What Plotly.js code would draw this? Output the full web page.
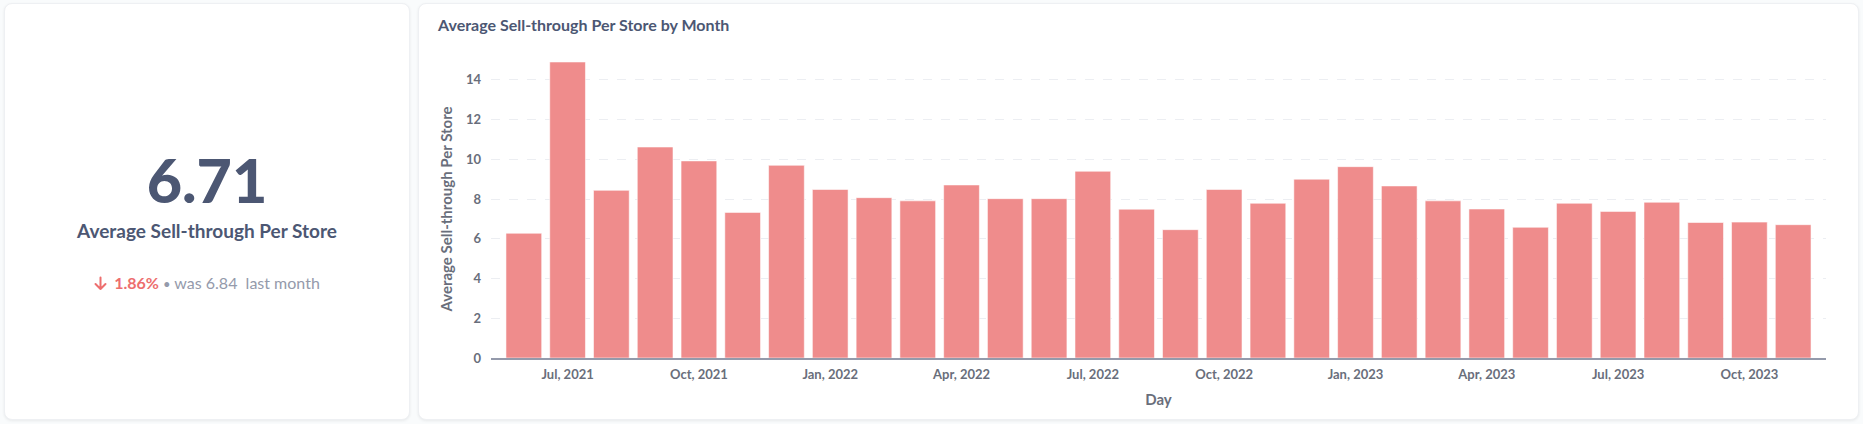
<!DOCTYPE html>
<html>
<head>
<meta charset="utf-8">
<script src="https://cdn.plot.ly/plotly-3.0.1.min.js"></script>
<style>
  html, body { margin: 0; padding: 0; width: 1863px; height: 424px; background: #F9FBFC; overflow: hidden; font-family: Lato, "Open Sans", sans-serif; }
  .card { position: absolute; background: #fff; border-radius: 8px; box-shadow: 0 1px 3px rgba(0,0,0,0.07); border: 1px solid #EEF0F3; box-sizing: border-box; }
  #kpi { left: 4px; top: 3px; width: 406px; height: 417px; }
  #chartcard { left: 418px; top: 3px; width: 1441px; height: 417px; }
  #chart { position: absolute; left: 0; top: 0; width: 1441px; height: 417px; }
  .big { position: absolute; left: 0; width: 100%; top: 141px; text-align: center; font-size: 61px; font-weight: 900; color: #4C5773; line-height: 70px; }
  .lbl { position: absolute; left: 0; width: 100%; top: 215px; text-align: center; font-size: 19px; font-weight: 700; color: #4C5773; line-height: 24px; }
  .sub { position: absolute; left: 0; width: 100%; top: 269px; text-align: center; font-size: 16px; color: #949AAB; line-height: 20px; white-space: nowrap; }
  .sub .pct { color: #ED6E6E; font-weight: 700; }
  .sub svg { vertical-align: -2px; margin-right: 7px; }
</style>
</head>
<body>
<script>
// ---- data ----
const kpiValue = "6.71";
const kpiLabel = "Average Sell-through Per Store";
const kpiChange = "1.86%";
const kpiPrevious = "6.84";

const months = ["Jun, 2021","Jul, 2021","Aug, 2021","Sep, 2021","Oct, 2021","Nov, 2021","Dec, 2021",
  "Jan, 2022","Feb, 2022","Mar, 2022","Apr, 2022","May, 2022","Jun, 2022","Jul, 2022","Aug, 2022","Sep, 2022","Oct, 2022","Nov, 2022","Dec, 2022",
  "Jan, 2023","Feb, 2023","Mar, 2023","Apr, 2023","May, 2023","Jun, 2023","Jul, 2023","Aug, 2023","Sep, 2023","Oct, 2023","Nov, 2023"];
const sellThrough = [6.28, 14.9, 8.44, 10.62, 9.92, 7.33, 9.70,
  8.48, 8.07, 7.91, 8.71, 8.02, 8.02, 9.40, 7.49, 6.46, 8.48, 7.79, 9.00,
  9.63, 8.66, 7.91, 7.50, 6.58, 7.79, 7.38, 7.84, 6.82, 6.84, 6.71];
const tickLabels = ["Jul, 2021","Oct, 2021","Jan, 2022","Apr, 2022","Jul, 2022","Oct, 2022","Jan, 2023","Apr, 2023","Jul, 2023","Oct, 2023"];
const yTicks = [0, 2, 4, 6, 8, 10, 12, 14];
</script>

<div class="card" id="kpi">
  <div class="big" id="bigv"></div>
  <div class="lbl" id="lblv"></div>
  <div class="sub" id="subv"></div>
</div>
<div class="card" id="chartcard"><div id="chart"></div></div>

<script>
document.getElementById('bigv').textContent = kpiValue;
document.getElementById('lblv').textContent = kpiLabel;
document.getElementById('subv').innerHTML =
  '<svg width="13" height="15" viewBox="0 0 13 15"><path d="M6.5 1.5 V13 M1.5 8 L6.5 13 L11.5 8" stroke="#ED6E6E" stroke-width="2" fill="none" stroke-linecap="round" stroke-linejoin="round"/></svg>' +
  '<span class="pct">' + kpiChange + '</span> <span style="font-size:13px">&#8226;</span> was ' + kpiPrevious + '&nbsp; last month';

const axisColor = '#696E7B';
const trace = {
  type: 'bar',
  x: months,
  y: sellThrough,
  marker: { color: '#EF8C8C', line: { color: 'rgba(255,255,255,0.55)', width: 1 } },
  hoverinfo: 'x+y'
};
const layout = {
  width: 1441, height: 417,
  paper_bgcolor: 'rgba(0,0,0,0)', plot_bgcolor: 'rgba(0,0,0,0)',
  margin: { l: 72, r: 34, t: 56, b: 63, autoexpand: false },
  bargap: 0.184,
  showlegend: false,
  font: { family: 'Lato, "Open Sans", sans-serif', color: axisColor },
  title: {
    text: 'Average Sell-through Per Store by Month',
    font: { family: 'Lato', size: 16, weight: 700, color: '#4C5773' },
    xref: 'container', yref: 'container', x: 19 / 1441, xanchor: 'left', y: 1 - 21 / 417, yanchor: 'middle'
  },
  xaxis: {
    type: 'category',
    categoryorder: 'array', categoryarray: months,
    range: [-0.75, months.length - 0.25],
    tickmode: 'array', tickvals: tickLabels, ticktext: tickLabels,
    ticks: '', ticklabelstandoff: 4, showgrid: false, zeroline: false,
    showline: true, linecolor: '#949AAB', linewidth: 1.5,
    tickfont: { family: 'Lato', size: 13, weight: 700, color: axisColor },
    title: { text: 'Day', font: { family: 'Lato', size: 15, weight: 700, color: axisColor }, standoff: 13 },
    automargin: false, fixedrange: true
  },
  yaxis: {
    range: [0, 15],
    tickmode: 'array', tickvals: yTicks,
    ticks: '', ticklabelstandoff: 9,
    showgrid: true, gridcolor: '#ECEEF2', griddash: 'dash', gridwidth: 1,
    zeroline: false, showline: false,
    tickfont: { family: 'Lato', size: 13, weight: 700, color: axisColor },
    title: { text: 'Average Sell-through Per Store', font: { family: 'Lato', size: 15, weight: 700, color: axisColor }, standoff: 9 },
    automargin: false, fixedrange: true
  },
  shapes: [
    { type: 'line', xref: 'x domain', x0: 0, x1: 0, yref: 'y', ysizemode: 'pixel', yanchor: 0, y0: 0, y1: -6, line: { color: '#949AAB', width: 1.5 } },
    { type: 'line', xref: 'x domain', x0: 1, x1: 1, yref: 'y', ysizemode: 'pixel', yanchor: 0, y0: 0, y1: -6, line: { color: '#949AAB', width: 1.5 } }
  ]
};
Plotly.newPlot('chart', [trace], layout, { displayModeBar: false, staticPlot: true });
</script>
</body>
</html>
